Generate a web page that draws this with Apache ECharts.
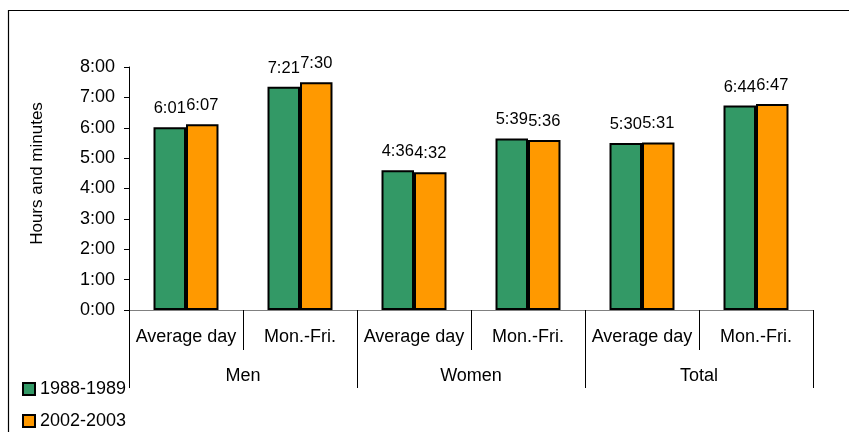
<!DOCTYPE html>
<html>
<head>
<meta charset="utf-8">
<script src="https://cdn.jsdelivr.net/npm/echarts@6/dist/echarts.min.js"></script>
<style>html,body{margin:0;padding:0;background:#fff}#c{width:849px;height:432px}</style>
</head>
<body>
<div id="c"></div>
<script>
const subCategories = ['Average day', 'Mon.-Fri.', 'Average day', 'Mon.-Fri.', 'Average day', 'Mon.-Fri.'];
const groups = ['Men', 'Women', 'Total'];
const seriesNames = ['1988-1989', '2002-2003'];
const values1988 = ['6:01', '7:21', '4:36', '5:39', '5:30', '6:44'];
const values2002 = ['6:07', '7:30', '4:32', '5:36', '5:31', '6:47'];
const yTicks = ['0:00','1:00','2:00','3:00','4:00','5:00','6:00','7:00','8:00'];

function toHours(s) { const p = s.split(':'); return (+p[0]) + (+p[1]) / 60; }
const FONT = 'Liberation Sans, Arial, sans-serif';
const colors = ['#339966', '#FF9900'];

function mkSeries(name, vals, color) {
  return {
    name: name, type: 'bar', xAxisIndex: 0,
    barGap: '0%', barCategoryGap: '43%',
    data: vals.map(v => ({ value: toHours(v), label: { formatter: v } })),
    itemStyle: { color: color, borderColor: '#000', borderWidth: 2 },
    label: { show: true, position: 'top', distance: 10, color: '#000', fontFamily: FONT, fontSize: 16.5 },
    emphasis: { disabled: true }
  };
}

function mkLegend(name, top) {
  return {
    orient: 'horizontal', left: 22, top: top, padding: 0, itemWidth: 12, itemHeight: 12,
    icon: 'rect', data: [name], selectedMode: false,
    itemStyle: { borderColor: '#000', borderWidth: 2 },
    textStyle: { fontFamily: FONT, fontSize: 18, color: '#000' }
  };
}

const chart = echarts.init(document.getElementById('c'), null, { renderer: 'canvas' });
chart.setOption({
  animation: false,
  color: colors,
  grid: { left: 129, right: 36, top: 67, bottom: 122 },
  graphic: [{ type: 'rect', shape: { x: 8.5, y: 10.5, width: 900, height: 500 }, style: { fill: null, stroke: '#000', lineWidth: 1.2 }, silent: true }],
  legend: [mkLegend(seriesNames[0], 380), mkLegend(seriesNames[1], 412)],
  xAxis: [
    {
      type: 'category', data: subCategories, position: 'bottom',
      axisLine: { lineStyle: { color: '#808080', width: 1 } },
      axisTick: { show: true, interval: 0, length: 40, lineStyle: { color: '#000' } },
      axisLabel: { interval: 0, margin: 18, color: '#000', fontFamily: FONT, fontSize: 18 },
      splitLine: { show: false }
    },
    {
      type: 'category', data: groups, position: 'bottom', gridIndex: 0,
      axisLine: { show: false },
      axisTick: { show: true, interval: 0, length: 78, lineStyle: { color: '#000' } },
      axisLabel: { interval: 0, margin: 57, color: '#000', fontFamily: FONT, fontSize: 18 },
      splitLine: { show: false }
    }
  ],
  yAxis: {
    type: 'value', min: 0, max: 8, interval: 1,
    name: 'Hours and minutes', nameLocation: 'middle', nameGap: 83, nameRotate: 90,
    nameTextStyle: { fontFamily: FONT, fontSize: 17, color: '#000', padding: [0, 0, 0, 30] },
    axisLine: { show: true, lineStyle: { color: '#000' } },
    axisTick: { show: true, length: 5, lineStyle: { color: '#000' } },
    axisLabel: { formatter: v => yTicks[v], margin: 14, color: '#000', fontFamily: FONT, fontSize: 18 },
    splitLine: { show: false }
  },
  series: [
    mkSeries(seriesNames[0], values1988, colors[0]),
    mkSeries(seriesNames[1], values2002, colors[1])
  ]
});
</script>
</body>
</html>
